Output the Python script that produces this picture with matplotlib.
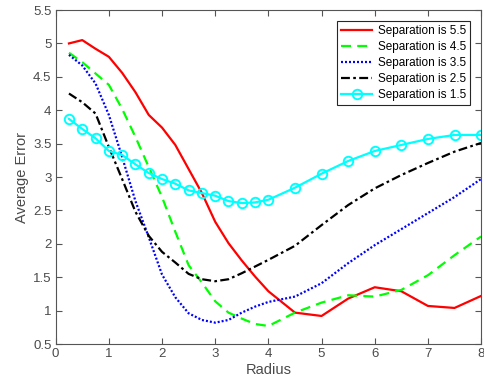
import matplotlib
matplotlib.use("Agg")
import matplotlib.pyplot as plt
from matplotlib.ticker import FuncFormatter

plt.rcParams['font.family'] = ['Liberation Sans', 'DejaVu Sans']

radius = [0.25, 0.5, 0.75, 1, 1.25, 1.5, 1.75, 2, 2.25, 2.5, 2.75, 3,
          3.25, 3.5, 3.75, 4, 4.5, 5, 5.5, 6, 6.5, 7, 7.5, 8]

sep_5_5 = [5.0, 5.05, 4.92, 4.8, 4.56, 4.27, 3.93, 3.74, 3.48, 3.12, 2.76, 2.33,
           2.01, 1.75, 1.51, 1.29, 0.97, 0.92, 1.18, 1.35, 1.29, 1.07, 1.04, 1.22]
sep_4_5 = [4.86, 4.72, 4.55, 4.38, 4.02, 3.6, 3.15, 2.7, 2.18, 1.68, 1.42, 1.14,
           0.97, 0.88, 0.8, 0.77, 0.97, 1.12, 1.23, 1.21, 1.31, 1.53, 1.83, 2.11]
sep_3_5 = [4.83, 4.67, 4.4, 3.93, 3.3, 2.64, 2.1, 1.54, 1.2, 0.96, 0.86, 0.82,
           0.86, 0.97, 1.06, 1.13, 1.21, 1.41, 1.71, 1.98, 2.22, 2.46, 2.7, 2.97]
sep_2_5 = [4.25, 4.12, 3.95, 3.45, 2.97, 2.48, 2.12, 1.88, 1.72, 1.55, 1.47, 1.44,
           1.47, 1.56, 1.66, 1.76, 1.97, 2.28, 2.58, 2.83, 3.03, 3.21, 3.38, 3.51]
sep_1_5 = [3.87, 3.72, 3.58, 3.39, 3.33, 3.19, 3.06, 2.97, 2.9, 2.8, 2.76, 2.72,
           2.64, 2.61, 2.62, 2.66, 2.84, 3.05, 3.24, 3.39, 3.48, 3.57, 3.63, 3.63]

labels = ['Separation is 5.5', 'Separation is 4.5', 'Separation is 3.5',
          'Separation is 2.5', 'Separation is 1.5']

x_ticks = [0, 1, 2, 3, 4, 5, 6, 7, 8]
y_ticks = [0.5, 1, 1.5, 2, 2.5, 3, 3.5, 4, 4.5, 5, 5.5]

fig = plt.figure(figsize=(4.84, 3.92), dpi=100)
ax = fig.add_axes([0.115, 0.1224, 0.879, 0.852])

lw = 1.6
ax.plot(radius, sep_5_5, color=(1, 0, 0), lw=lw, label=labels[0])
ax.plot(radius, sep_4_5, color=(0, 1, 0), lw=lw, dashes=(4.5, 2.8), label=labels[1])
ax.plot(radius, sep_3_5, color=(0, 0, 1), lw=lw, dashes=(0.9, 0.9), label=labels[2])
ax.plot(radius, sep_2_5, color='black', lw=lw, dashes=(4, 1.5, 1.2, 1.5), label=labels[3])
ax.plot(radius, sep_1_5, color=(0, 1, 1), lw=lw, marker='o', markersize=6.8,
        markerfacecolor='none', markeredgewidth=1.4, label=labels[4])

ax.set_xlim(0, 8)
ax.set_ylim(0.5, 5.5)
ax.set_xticks(x_ticks)
ax.set_yticks(y_ticks)
ax.xaxis.set_major_formatter(FuncFormatter(lambda v, p: '%g' % v))
ax.yaxis.set_major_formatter(FuncFormatter(lambda v, p: '%g' % v))

axcol = '#555555'
for s in ax.spines.values():
    s.set_color(axcol)
    s.set_linewidth(0.8)
ax.tick_params(direction='in', top=True, right=True, length=4, width=0.8,
               colors=axcol, labelsize=9.5, labelcolor='#4a4a4a', pad=3)

ax.set_xlabel('Radius', fontsize=10.5, color='#4a4a4a', labelpad=2)
ax.set_ylabel('Average Error', fontsize=10.5, color='#4a4a4a', labelpad=3)

leg = ax.legend(loc='upper right', fontsize=8.5, frameon=True, fancybox=False,
                framealpha=1, edgecolor='#262626', handlelength=2.6,
                handletextpad=0.5, labelspacing=0.34, borderpad=0.35,
                borderaxespad=0.9)
leg.get_frame().set_linewidth(0.8)

fig.savefig('out.png', dpi=100)
